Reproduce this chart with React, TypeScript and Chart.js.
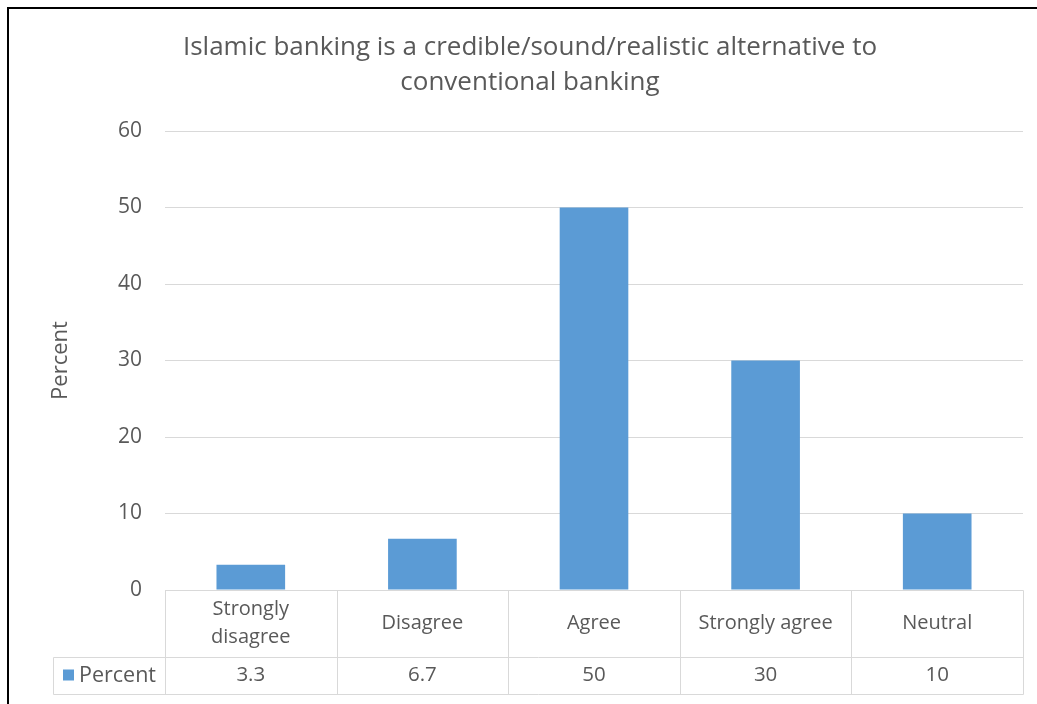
import React, { useEffect, useRef } from "react";
import { Chart, registerables } from "chart.js";

Chart.register(...registerables);

const TITLE_LINES = [
  "Islamic banking is a credible/sound/realistic alternative to",
  "conventional banking",
];
const CATEGORIES = ["Strongly disagree", "Disagree", "Agree", "Strongly agree", "Neutral"];
const CATEGORY_LINES = [["Strongly", "disagree"], ["Disagree"], ["Agree"], ["Strongly agree"], ["Neutral"]];
const VALUES = [3.3, 6.7, 50, 30, 10];
const VALUE_LABELS = ["3.3", "6.7", "50", "30", "10"];
const SERIES_NAME = "Percent";
const Y_TITLE = "Percent";
const Y_MIN = 0;
const Y_MAX = 60;
const Y_STEP = 10;

const FONT = "'Open Sans', Lato, sans-serif";
const TEXT = "#595959";
const GRID = "#D9D9D9";
const BAR = "#5B9BD5";

const tablePlugin = {
  id: "dataTable",
  beforeDraw(chart: any) {
    const { ctx, width, height } = chart;
    ctx.save();
    ctx.fillStyle = "#ffffff";
    ctx.fillRect(0, 0, width, height);
    ctx.strokeStyle = "#000000";
    ctx.lineWidth = 2;
    ctx.beginPath();
    ctx.moveTo(8, height);
    ctx.lineTo(8, 8);
    ctx.lineTo(width, 8);
    ctx.stroke();
    ctx.restore();
  },
  afterDraw(chart: any) {
    const { ctx, chartArea } = chart;
    const { left, right, bottom } = chartArea;
    const xScale = chart.scales.x;
    const n = CATEGORIES.length;
    const cw = (right - left) / n;
    const row1Bottom = bottom + 67;
    const row2Bottom = bottom + 104;
    const legendLeft = 53;
    ctx.save();
    ctx.strokeStyle = GRID;
    ctx.lineWidth = 1;
    const line = (x1: number, y1: number, x2: number, y2: number) => {
      ctx.beginPath();
      ctx.moveTo(Math.round(x1) + 0.5, Math.round(y1) + 0.5);
      ctx.lineTo(Math.round(x2) + 0.5, Math.round(y2) + 0.5);
      ctx.stroke();
    };
    line(left, bottom, right, bottom);
    line(legendLeft, row1Bottom, right, row1Bottom);
    line(legendLeft, row2Bottom, right, row2Bottom);
    for (let i = 0; i <= n; i++) {
      const x = left + i * cw;
      line(x, bottom, x, row2Bottom);
    }
    line(legendLeft, row1Bottom, legendLeft, row2Bottom);

    ctx.fillStyle = TEXT;
    ctx.textAlign = "center";
    ctx.textBaseline = "middle";
    const row1Mid = (bottom + row1Bottom) / 2;
    const row2Mid = (row1Bottom + row2Bottom) / 2;
    const lh = 28;
    CATEGORY_LINES.forEach((lines, i) => {
      const x = xScale.getPixelForValue(i);
      const start = row1Mid - ((lines.length - 1) * lh) / 2;
      ctx.font = `20px ${FONT}`;
      lines.forEach((t, j) => ctx.fillText(t, x, start + j * lh));
      ctx.font = `20.5px ${FONT}`;
      ctx.fillText(VALUE_LABELS[i], x, row2Mid);
    });
    // legend key
    ctx.fillStyle = BAR;
    ctx.fillRect(63, row2Mid - 6, 11, 11);
    ctx.fillStyle = TEXT;
    ctx.textAlign = "left";
    ctx.font = `21.5px ${FONT}`;
    ctx.fillText(SERIES_NAME, 79, row2Mid);

    // title
    ctx.font = `26px ${FONT}`;
    ctx.textAlign = "center";
    ctx.fillText(TITLE_LINES[0], 530, 48);
    ctx.fillText(TITLE_LINES[1], 530, 83);
    ctx.restore();
  },
};

export default function App() {
  const canvasRef = useRef<HTMLCanvasElement | null>(null);

  useEffect(() => {
    if (!canvasRef.current) return;
    const chart = new Chart(canvasRef.current, {
      type: "bar",
      data: {
        labels: CATEGORIES,
        datasets: [
          {
            label: SERIES_NAME,
            data: VALUES,
            backgroundColor: BAR,
            borderWidth: 0,
            categoryPercentage: 1,
            barPercentage: 0.4,
          },
        ],
      },
      options: {
        animation: false,
        responsive: false,
        maintainAspectRatio: false,
        devicePixelRatio: 1,
        layout: { padding: { top: 131, left: 0, right: 14, bottom: 114 } },
        plugins: {
          legend: { display: false },
          title: { display: false },
          tooltip: { enabled: false },
        },
        scales: {
          x: {
            display: false,
            offset: true,
            grid: { display: false },
          },
          y: {
            min: Y_MIN,
            max: Y_MAX,
            ticks: {
              stepSize: Y_STEP,
              color: TEXT,
              font: { family: FONT, size: 21 },
              padding: 23,
            },
            grid: { color: GRID, lineWidth: 1, drawTicks: false },
            border: { display: false },
            title: {
              display: true,
              text: Y_TITLE,
              color: TEXT,
              font: { family: FONT, size: 22 },
              padding: { top: 48, bottom: 0 },
            },
            afterFit(scale: any) {
              scale.width = 165;
            },
          },
        },
      },
      plugins: [tablePlugin],
    });
    return () => chart.destroy();
  }, []);

  return (
    <div style={{ position: "absolute", left: 0, top: 0, width: 1037, height: 704 }}>
      <canvas ref={canvasRef} width={1037} height={704} style={{ display: "block" }} />
    </div>
  );
}
